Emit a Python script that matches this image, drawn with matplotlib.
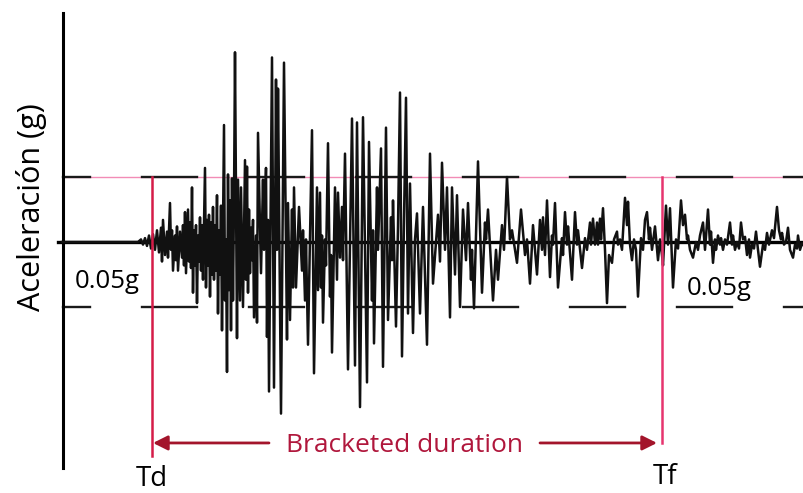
import numpy as np
import matplotlib
matplotlib.use("Agg")
import matplotlib.pyplot as plt

plt.rcParams["font.family"] = ["Open Sans", "DejaVu Sans"]

# accelerogram: time (s) and acceleration (g)
t_onset = [
    0.5, 4.3, 4.45, 4.55, 4.65, 4.75, 4.85, 4.95, 5.05, 5.15,
    5.25, 5.35, 5.45, 5.5, 5.55, 5.65, 5.75, 5.8, 5.9, 5.95,
    6.0, 6.05, 6.15, 6.2, 6.25, 6.3, 6.4, 6.5, 6.55, 6.6,
    6.65, 6.7, 6.8, 6.85, 6.9, 6.95, 7.0, 7.05, 7.1, 7.15,
    7.2, 7.25, 7.3, 7.35, 7.4, 7.45, 7.5, 7.55, 7.65, 7.7,
    7.75, 7.8, 7.85, 7.9, 7.95, 8.0, 8.05, 8.1, 8.15, 8.2,
    8.25, 8.3, 8.35, 8.4, 8.45, 8.5, 8.55, 8.6, 8.65, 8.7,
    8.75, 8.8, 8.85, 8.9, 8.95, 9.0, 9.05, 9.1, 9.15,
]
a_onset = [
    0, 0, 0.002, -0.002, 0.003, -0.003, 0.005, -0.005, 0.006, -0.006,
    0.009, -0.008, 0.011, -0.015, 0.017, -0.010, 0.008, -0.012, 0.030, -0.006,
    0.009, -0.022, 0.005, -0.014, 0.012, -0.022, 0.008, -0.012, 0.013, -0.018,
    0.023, -0.024, 0.025, -0.015, 0.015, -0.020, 0.042, -0.039, 0.009, -0.018,
    0.013, -0.047, 0.005, -0.015, 0.019, -0.022, 0.013, -0.029, 0.057, -0.035,
    0.017, -0.018, 0.021, -0.042, 0.015, -0.025, 0.027, -0.029, 0.013, -0.022,
    0.036, -0.055, 0.009, -0.025, 0.028, -0.068, 0.013, 0.090, -0.045, 0.002,
    -0.100, 0.052, -0.037, 0.032, -0.068, 0.049, -0.045, 0.032, 0.146,
]

t_strong = [
    9.25, 9.3, 9.4, 9.45, 9.55, 9.65, 9.7, 9.75, 9.8, 9.85,
    9.9, 9.95, 10.0, 10.05, 10.1, 10.2, 10.25, 10.3, 10.45, 10.55,
    10.6, 10.7, 10.75, 10.8, 10.85, 11.0, 11.1, 11.2, 11.25, 11.3,
    11.45, 11.6, 11.75, 11.8, 11.9, 12.0, 12.05, 12.1, 12.2, 12.35,
    12.5, 12.55, 12.65, 12.7, 12.8, 13.0, 13.1, 13.25, 13.3, 13.4,
    13.45, 13.5, 13.55, 13.65, 13.7, 13.8, 13.9, 13.95, 14.0, 14.15,
    14.25, 14.3, 14.4, 14.5, 14.55, 14.65, 14.8, 15.0, 15.15, 15.25,
    15.4, 15.55, 15.75, 15.85, 16.0, 16.05, 16.1, 16.25, 16.3, 16.45,
    16.55, 16.7, 16.8, 16.95, 17.0, 17.05, 17.2, 17.3, 17.4, 17.5,
    17.6, 17.7, 17.8, 17.9, 18.05, 18.15, 18.25, 18.4, 18.55, 18.75,
]
a_strong = [
    -0.074, 0.048, -0.045, 0.042, -0.050, 0.063, -0.029, 0.058, -0.039, 0.025,
    -0.024, 0.011, -0.014, 0.017, -0.058, 0.005, -0.062, 0.084, -0.024, 0.048,
    -0.006, 0.057, -0.073, 0.017, -0.115, 0.142, -0.112, 0.125, -0.006, 0.118,
    -0.132, 0.138, -0.075, 0.030, -0.060, 0.025, -0.035, 0.042, -0.035, 0.027,
    -0.022, 0.009, -0.045, 0.002, -0.079, 0.086, -0.101, 0.042, -0.037, 0.038,
    -0.035, 0.005, -0.062, 0.002, -0.018, 0.076, -0.042, -0.010, -0.085, 0.042,
    -0.029, 0.038, -0.012, 0.027, -0.014, 0.068, -0.098, 0.095, -0.095, 0.092,
    -0.127, 0.096, -0.108, 0.077, -0.045, 0.009, -0.078, 0.042, -0.006, 0.072,
    -0.096, 0.088, -0.060, 0.019, -0.014, 0.032, -0.065, 0.012, 0.115, -0.088,
    0.017, 0.111, -0.055, 0.045, -0.070, 0.002, 0.022, -0.055, 0.027, -0.079,
]

t_decay = [
    18.9, 19.05, 19.3, 19.4, 19.5, 19.65, 19.75, 19.9, 20.0, 20.15,
    20.25, 20.4, 20.55, 20.7, 20.8, 20.95, 21.0, 21.1, 21.3, 21.5,
    21.65, 21.7, 21.8, 22.05, 22.2, 22.3, 22.5, 22.6, 22.75, 22.9,
    23.0, 23.25, 23.45, 23.65, 23.75, 23.9, 24.05, 24.25, 24.4, 24.5,
    24.55, 24.65, 24.75, 24.9, 25.0, 25.05, 25.15, 25.3, 25.5, 25.55,
    25.65, 25.75, 25.8, 26.0, 26.15, 26.25, 26.3, 26.5, 26.65, 26.75,
    26.9, 26.95, 27.05, 27.15, 27.25, 27.3, 27.4, 27.45, 27.55, 27.65,
    27.75, 27.85, 28.0, 28.1, 28.25, 28.3, 28.4, 28.5, 28.65, 28.75,
    28.8, 28.9, 29.0, 29.1, 29.2, 29.3, 29.45, 29.55, 29.65, 29.75,
    29.85, 29.9, 30.0, 30.15, 30.25, 30.3, 30.4, 30.5, 30.55,
]
a_decay = [
    0.068, -0.032, 0.021, -0.015, 0.061, -0.006, 0.042, -0.058, 0.042, -0.025,
    0.036, -0.050, 0.025, -0.014, 0.030, -0.029, -0.006, -0.051, 0.062, -0.039,
    0.015, 0.002, 0.025, -0.045, -0.006, -0.029, 0.013, -0.006, 0.050, 0.002,
    0.009, -0.016, 0.025, -0.010, 0.002, -0.032, 0.013, -0.025, 0.017, -0.006,
    0.019, -0.010, 0.032, -0.027, 0.005, -0.002, 0.030, -0.035, 0.003, -0.010,
    0.023, -0.002, 0.012, -0.029, 0.023, -0.002, 0.009, -0.020, 0.003, -0.006,
    0.015, -0.002, 0.018, -0.002, 0.015, -0.002, 0.018, 0.002, 0.026, -0.006,
    -0.047, -0.010, -0.016, 0.002, 0.008, -0.002, 0.002, -0.006, 0.034, 0.013,
    0.031, -0.002, -0.014, 0.002, -0.006, -0.042, 0.003, -0.006, 0.017, 0.023,
    0.002, 0.011, -0.006, 0.012, -0.006, -0.014, 0.002, -0.010, -0.018,
]

t_coda = [
    30.7, 30.8, 30.9, 31.05, 31.2, 31.3, 31.45, 31.55, 31.65, 31.75,
    31.8, 31.9, 32.05, 32.2, 32.3, 32.4, 32.55, 32.65, 32.8, 32.9,
    32.95, 33.05, 33.15, 33.2, 33.3, 33.4, 33.45, 33.55, 33.65, 33.75,
    33.9, 34.0, 34.05, 34.15, 34.25, 34.35, 34.45, 34.55, 34.65, 34.75,
    34.85, 34.9, 35.0, 35.1, 35.2, 35.3, 35.4, 35.55, 35.65, 35.75,
    35.85, 36.0, 36.1, 36.25, 36.35, 36.45, 36.5, 36.6, 36.7, 36.8,
    36.9, 37.05, 37.15, 37.25, 37.3, 37.4, 37.5, 37.6,
]
a_coda = [
    0.028, -0.002, 0.026, -0.035, 0.002, -0.005, 0.032, 0.013, 0.021, 0.002,
    0.005, -0.006, -0.012, 0.0, -0.006, 0.005, 0.015, -0.006, 0.025, -0.002,
    0.008, -0.016, 0.002, -0.006, 0.005, -0.002, 0.003, -0.006, 0.002, -0.002,
    0.015, -0.002, 0.005, -0.006, 0.0, -0.005, 0.015, 0.002, 0.004, -0.010,
    0.002, -0.012, -0.002, -0.005, 0.008, -0.006, -0.019, -0.002, -0.006, 0.007,
    -0.002, 0.009, 0.003, 0.027, 0.009, 0.002, 0.007, -0.002, 0.0, 0.011,
    -0.006, -0.012, -0.002, -0.005, 0.005, -0.006, -0.001, -0.003,
]

threshold = 0.05
t_d = 5.0
t_f = 30.5

t = np.concatenate([t_onset, t_strong, t_decay, t_coda])
acc = np.concatenate([a_onset, a_strong, a_decay, a_coda])

fig = plt.figure(figsize=(8.04, 4.93), dpi=100)
ax = fig.add_axes([0, 0, 1, 1])
ax.set_xlim(-2.6, 37.6)
ax.set_ylim(-0.1931, 0.1862)
ax.axis("off")

# threshold lines (+ thin pink guide on the upper one)
ax.plot([0.55, 37.6], [threshold, threshold], color="#f28cb6", lw=1.0, zorder=1)
starts = np.arange(-0.85, 38, 5.35)
for s in starts:
    x0 = max(s, 0.55)
    x1 = min(s + 2.75, 37.6)
    for lvl in (threshold, -threshold):
        ax.plot([x0, x1], [lvl, lvl], color="#1a1a1a", lw=1.7, zorder=2)

# axes
ax.plot([0.55, 0.55], [0.176, -0.174], color="black", lw=2.2, zorder=3)
ax.plot([0.3, 37.6], [0, 0], color="black", lw=2.4, zorder=3)

# accelerogram
ax.plot(t, acc, color="#111111", lw=1.8, zorder=4)

# bracketed duration markers
ax.plot([t_d, t_d], [threshold, -0.165], color="#d51c48", lw=1.8, zorder=5)
ax.plot([t_f, t_f], [threshold, -0.155], color="#e6346e", lw=1.8, zorder=5)

arrow_y = -0.1546
arrow_c = "#a3152b"
ax.annotate("", xy=(t_d + 0.05, arrow_y), xytext=(10.85, arrow_y),
            arrowprops=dict(arrowstyle="-|>", color=arrow_c, lw=2,
                            mutation_scale=22, shrinkA=0, shrinkB=0))
ax.annotate("", xy=(t_f - 0.25, arrow_y), xytext=(24.4, arrow_y),
            arrowprops=dict(arrowstyle="-|>", color=arrow_c, lw=2,
                            mutation_scale=22, shrinkA=0, shrinkB=0))
ax.text(17.65, -0.1615, "Bracketed duration", color="#b0173c", fontsize=19,
        ha="center", va="baseline")

ax.text(t_d, -0.1875, "Td", fontsize=20, ha="center", va="baseline")
ax.text(30.65, -0.186, "Tf", fontsize=20, ha="center", va="baseline")
ax.text(2.75, -0.0354, "0.05g", fontsize=18.5, ha="center", va="baseline")
ax.text(33.35, -0.0408, "0.05g", fontsize=18.5, ha="center", va="baseline")
ax.text(-1.0, 0.027, "Aceleración (g)", fontsize=22, rotation=90,
        ha="center", va="center")

fig.savefig("out.png", dpi=100)
